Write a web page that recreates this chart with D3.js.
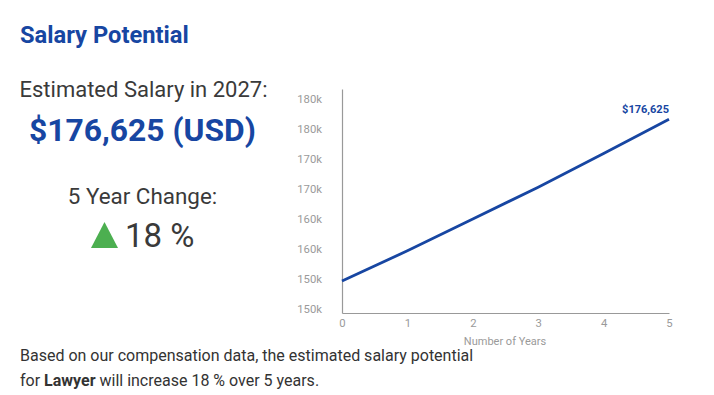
<!DOCTYPE html>
<html><head><meta charset="utf-8">
<script src="https://cdn.jsdelivr.net/npm/d3@7"></script>
<style>
html,body{margin:0;padding:0;background:#fff;}
svg{display:block;font-family:Roboto,"Noto Sans",sans-serif;}
</style></head>
<body><svg id="c" width="714" height="395"></svg>
<script>
const years = [0, 1, 2, 3, 4, 5];
const salary = [149682, 154700, 160000, 165300, 170900, 176625];
const yTicks = [145000, 150000, 155000, 160000, 165000, 170000, 175000, 180000];
const xTicks = [0, 1, 2, 3, 4, 5];
const jobTitle = "Lawyer";
const changePct = 18;

const svg = d3.select("#c");
const blue = "#1746a2";
const x = d3.scaleLinear().domain([0, 5]).range([342, 669]);
const y = d3.scaleLinear().domain([144333, 181667]).range([313, 89]);

// Left text
svg.append("text").attr("x", 20).attr("y", 43).attr("font-size", 23.7).attr("font-weight", 700)
  .attr("fill", blue).text("Salary Potential");
svg.append("text").attr("x", 143.5).attr("y", 97).attr("text-anchor", "middle").attr("font-size", 22)
  .attr("fill", "#3a3a3a").text("Estimated Salary in 2027:");
svg.append("text").attr("x", 142.5).attr("y", 141).attr("text-anchor", "middle").attr("font-size", 31.8)
  .attr("font-weight", 700).attr("fill", blue).text("$" + d3.format(",")(salary[salary.length-1]) + " (USD)");
svg.append("text").attr("x", 142.5).attr("y", 204).attr("text-anchor", "middle").attr("font-size", 22.4)
  .attr("fill", "#3a3a3a").text("5 Year Change:");
svg.append("path").attr("d", "M91,248 L104.5,222 L118,248 Z").attr("fill", "#4caf50");
svg.append("text").attr("x", 125).attr("y", 247).attr("font-size", 33)
  .attr("fill", "#3a3a3a").text(changePct + " %");

// Axes
const yAxis = svg.append("g").attr("transform", "translate(342,0)")
  .call(d3.axisLeft(y).tickValues(yTicks).tickSize(0).tickPadding(20)
    .tickFormat(v => Math.round(v / 10000) * 10 + "k"));
yAxis.select(".domain").attr("stroke", "#999").attr("stroke-width", 1.2);
yAxis.selectAll("text").attr("fill", "#9a9a9a").attr("font-size", 11.3).attr("font-family", "Roboto");

const xAxis = svg.append("g").attr("transform", "translate(0,313)")
  .call(d3.axisBottom(x).tickValues(xTicks).tickSize(0).tickPadding(6).tickFormat(d3.format("d")));
xAxis.select(".domain").attr("stroke", "#999").attr("stroke-width", 1.2);
xAxis.selectAll("text").attr("fill", "#9a9a9a").attr("font-size", 11.3).attr("font-family", "Roboto");

svg.append("text").attr("x", 505).attr("y", 345).attr("text-anchor", "middle").attr("font-size", 11)
  .attr("fill", "#9a9a9a").text("Number of Years");

// Line
svg.append("path").datum(years.map((d, i) => [d, salary[i]]))
  .attr("d", d3.line().x(d => x(d[0])).y(d => y(d[1])))
  .attr("fill", "none").attr("stroke", blue).attr("stroke-width", 2.8);

svg.append("text").attr("x", x(5)).attr("y", y(salary[5]) - 6).attr("text-anchor", "end")
  .attr("font-size", 11).attr("font-weight", 700).attr("fill", blue)
  .text("$" + d3.format(",")(salary[5]));

// Bottom text
svg.append("text").attr("x", 20).attr("y", 361).attr("font-size", 16).attr("fill", "#333")
  .text("Based on our compensation data, the estimated salary potential");
const t2 = svg.append("text").attr("x", 20).attr("y", 386).attr("font-size", 16).attr("fill", "#333");
t2.append("tspan").text("for ");
t2.append("tspan").attr("font-weight", 700).text(jobTitle);
t2.append("tspan").text(" will increase " + changePct + " % over 5 years.");
</script></body></html>
